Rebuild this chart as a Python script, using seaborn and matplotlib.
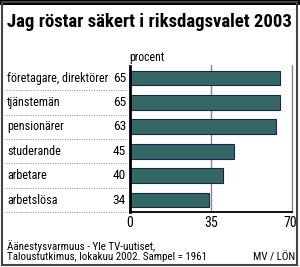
import matplotlib
matplotlib.use("Agg")
import matplotlib.pyplot as plt
import matplotlib.transforms as mtransforms
from matplotlib.patches import Rectangle
import seaborn as sns
import pandas as pd

title = "Jag röstar säkert i riksdagsvalet 2003"
categories = ["företagare, direktörer", "tjänstemän", "pensionärer",
              "studerande", "arbetare", "arbetslösa"]
values = [65, 65, 63, 45, 40, 34]
xticks = [0, 35, 70]
unit_label = "procent"
source_lines = ["Äänestysvarmuus - Yle TV-uutiset,",
                "Taloustutkimus, lokakuu 2002. Sampel = 1961"]
credit = "MV / LÖN"

sns.set_theme(style="white")
plt.rcParams['font.family'] = ['Roboto Condensed', 'DejaVu Sans']
plt.rcParams['text.color'] = 'black'
plt.rcParams['xtick.color'] = 'black'

W, H = 300, 267
fig = plt.figure(figsize=(W / 100, H / 100), dpi=100)
fig.patch.set_facecolor("white")

ax = fig.add_axes([130 / W, 1 - 212.2 / H, (292 - 130) / W, (212.2 - 65.8) / H])
df = pd.DataFrame({"cat": categories, "val": values})
sns.barplot(data=df, x="val", y="cat", orient="h", color="#336865",
            saturation=1, width=0.6, edgecolor="#1c2448", linewidth=0.8, ax=ax)
ax.set_xlim(0, 70)
ax.set_ylim(5.5, -0.5)
ax.set_xlabel("")
ax.set_ylabel("")
ax.set_yticks([])
ax.set_xticks(xticks)
ax.set_xticklabels([str(t) for t in xticks], fontsize=10, color="black")
ax.tick_params(axis="x", length=0, pad=3)
# keep the last tick label inside the frame, as in the reference
last = ax.get_xticklabels()[-1]
last.set_transform(last.get_transform() +
                   mtransforms.ScaledTranslation(-1.5 / 100, 0, fig.dpi_scale_trans))
for s in ["top", "right"]:
    ax.spines[s].set_visible(False)
ax.spines["left"].set_color("black")
ax.spines["left"].set_linewidth(2)
ax.spines["bottom"].set_color("black")
ax.spines["bottom"].set_linewidth(1.3)
ax.set_facecolor("white")

# vertical gridlines (extending slightly above the plot)
trans_x = mtransforms.blended_transform_factory(ax.transData, fig.transFigure)
for t in xticks[1:]:
    ax.plot([t, t], [1 - 212 / H, 1 - 65 / H], color="#888888", lw=1,
            transform=trans_x, clip_on=False, zorder=0)

# row labels, values and dotted separators
trans_y = mtransforms.blended_transform_factory(fig.transFigure, ax.transData)
for i, (c, v) in enumerate(zip(categories, values)):
    ax.text(7 / W, i, c, transform=trans_y, ha="left", va="center",
            fontsize=8.7, color="black")
    ax.text(126 / W, i, str(v), transform=trans_y, ha="right", va="center",
            fontsize=9.6, color="black")
    ax.plot([6 / W, 127 / W], [i + 0.5, i + 0.5], transform=trans_y,
            color="#8a8a8a", lw=0.7, ls=(0, (1, 1.5)), clip_on=False)

fig.text(129 / W, 1 - 58 / H, unit_label, ha="left", va="center", fontsize=8.5)

fig.text(7 / W, 1 - 22 / H, title, ha="left", va="center", fontsize=13.5,
         fontweight="bold")

fig.text(7 / W, 1 - 246 / H, source_lines[0], ha="left", va="center", fontsize=7.9)
fig.text(7 / W, 1 - 257.5 / H, source_lines[1], ha="left", va="center", fontsize=7.9)
fig.text(295 / W, 1 - 257.5 / H, credit, ha="right", va="center", fontsize=7.9)

# frame and top bar
fig.add_artist(Rectangle((0, 1 - 5 / H), 1, 5 / H, transform=fig.transFigure,
                         facecolor="black", edgecolor="none"))
fig.add_artist(Rectangle((1.5 / W, 2.5 / H), 295.5 / W, (H - 4) / H,
                         transform=fig.transFigure, facecolor="none",
                         edgecolor="#444444", lw=1.5))

fig.savefig("out.png", dpi=100)
